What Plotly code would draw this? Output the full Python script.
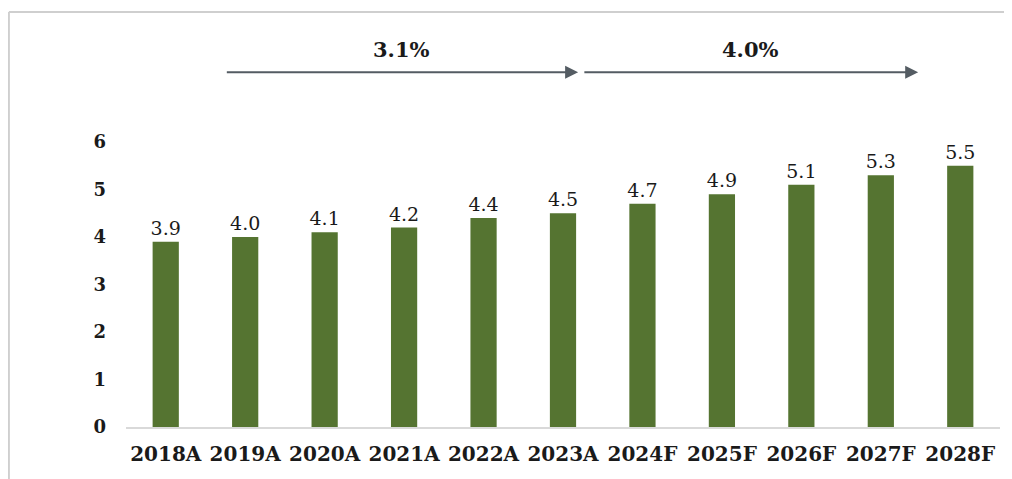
import plotly.graph_objects as go

categories = ["2018A", "2019A", "2020A", "2021A", "2022A", "2023A",
              "2024F", "2025F", "2026F", "2027F", "2028F"]
values = [3.9, 4.0, 4.1, 4.2, 4.4, 4.5, 4.7, 4.9, 5.1, 5.3, 5.5]
value_labels = ["3.9", "4.0", "4.1", "4.2", "4.4", "4.5", "4.7", "4.9", "5.1", "5.3", "5.5"]
y_ticks = [0, 1, 2, 3, 4, 5, 6]
cagr_labels = ["3.1%", "4.0%"]
cagr_spans = [(0.75, 5.19), (5.25, 9.47)]

SERIF = "DejaVu Serif"

fig = go.Figure()
fig.add_trace(go.Bar(
    x=categories, y=values,
    marker=dict(color="#557431", line=dict(width=0)),
    text=value_labels, textposition="outside", constraintext="none",
    textfont=dict(family=SERIF, size=19, color="#1a1a1a"),
    cliponaxis=False,
))

for lbl, (x0, x1) in zip(cagr_labels, cagr_spans):
    fig.add_annotation(
        x=x1, y=1.245, xref="x", yref="paper",
        ax=x0, ay=0, axref="x", ayref="pixel",
        showarrow=True, arrowhead=2, arrowsize=1.3, arrowwidth=2,
        arrowcolor="#545c63", text="",
    )
    fig.add_annotation(
        x=(x0 + x1) / 2, y=1.245, xref="x", yref="paper",
        text="<b>%s</b>" % lbl, showarrow=False, yanchor="bottom", yshift=8,
        font=dict(family=SERIF, size=21, color="#1a1a1a"),
    )

# frame: left and top edges only (the rest is outside the picture)
fig.add_shape(type="line", xref="paper", yref="paper",
              x0=-0.134, x1=-0.134, y0=-0.4, y1=1.456,
              line=dict(color="#cfcfcf", width=2))
fig.add_shape(type="line", xref="paper", yref="paper",
              x0=-0.134, x1=1.2, y0=1.456, y1=1.456,
              line=dict(color="#cfcfcf", width=2))

fig.update_layout(
    width=1012, height=479,
    margin=dict(l=118, r=20, t=134, b=60),
    paper_bgcolor="white", plot_bgcolor="white",
    showlegend=False, bargap=0.67,
    font=dict(family=SERIF),
    xaxis=dict(
        showgrid=False, showline=True, linecolor="#d9d9d9", linewidth=2,
        ticks="", tickfont=dict(family=SERIF, size=20, color="#1a1a1a", weight="bold"),
        ticklabelstandoff=8,
    ),
    yaxis=dict(
        range=[0, 6], tickvals=y_ticks, showgrid=False, zeroline=False,
        showline=False, ticks="",
        tickfont=dict(family=SERIF, size=18, color="#1a1a1a", weight="bold"),
        ticklabelstandoff=19,
    ),
)

fig.write_html("out.html")
